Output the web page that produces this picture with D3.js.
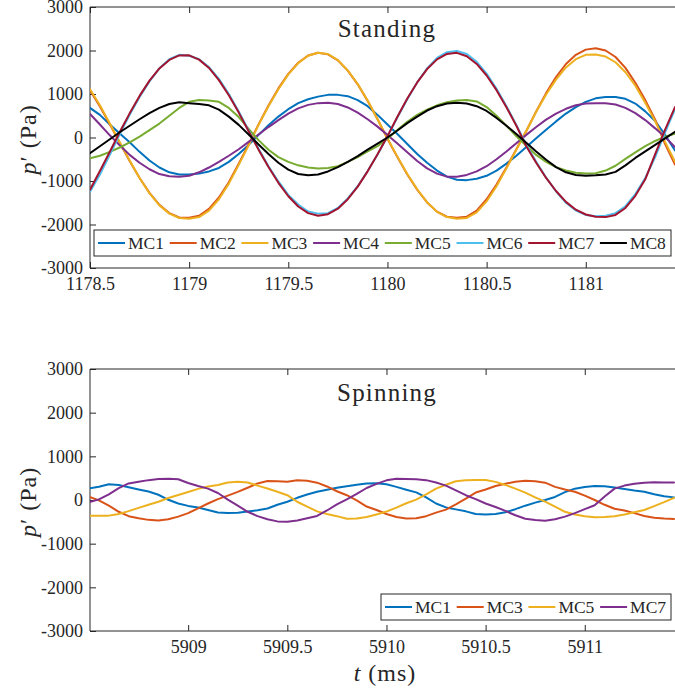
<!DOCTYPE html>
<html><head><meta charset="utf-8">
<script src="https://cdn.jsdelivr.net/npm/d3@7"></script>
<style>
body{margin:0;background:#fff}
svg text{font-family:"Liberation Serif","DejaVu Serif",serif;fill:#262626}
</style>
</head><body>
<svg id="c" width="675" height="690"></svg>
<script>
// ---------- data ----------
const sampleStep = 0.05;             // ms between samples
const standingStart = 1178.5;        // ms
const spinningStart = 5908.5;        // ms

const standingNames = ["MC1","MC2","MC3","MC4","MC5","MC6","MC7","MC8"];
const spinningNames = ["MC1","MC3","MC5","MC7"];

const standingMC1 = [680,520,300,90,-110,-330,-530,-690,-800,-850,-850,-830,-780,-700,-560,-380,-170,60,280,480,650,790,880,940,980,980,950,860,720,520,300,80,-150,-380,-580,-760,-900,-970,-980,-950,-880,-760,-600,-420,-220,-20,180,370,550,700,820,900,930,930,890,780,600,380,60,-300];
const standingMC2 = [1084,714,303,-122,-540,-931,-1273,-1547,-1737,-1837,-1845,-1800,-1640,-1380,-1030,-600,-160,302,735,1129,1463,1718,1884,1950,1911,1773,1537,1223,842,419,-28,-451,-849,-1201,-1493,-1704,-1822,-1846,-1820,-1680,-1420,-1080,-690,-270,150,600,1020,1390,1690,1900,2020,2050,2000,1850,1600,1260,860,410,-150,-620];
const standingMC3 = [1110,740,320,-110,-530,-930,-1280,-1560,-1750,-1850,-1870,-1830,-1680,-1420,-1060,-630,-180,290,720,1110,1450,1710,1880,1950,1920,1780,1540,1230,850,420,-20,-440,-840,-1190,-1490,-1710,-1830,-1870,-1850,-1720,-1470,-1120,-710,-280,150,590,990,1330,1610,1800,1900,1910,1860,1730,1500,1190,800,370,-100,-560];
const standingMC4 = [540,300,50,-180,-400,-580,-730,-840,-890,-900,-880,-800,-690,-560,-420,-270,-100,70,240,400,550,670,750,790,800,770,690,570,420,250,60,-140,-340,-540,-710,-830,-900,-900,-860,-780,-660,-500,-320,-130,60,240,410,550,660,740,780,790,790,760,680,560,400,210,10,-220];
const standingMC5 = [-480,-420,-330,-230,-110,20,170,320,500,680,820,860,850,820,680,470,200,-60,-280,-450,-560,-640,-690,-710,-700,-660,-560,-450,-320,-200,-30,170,360,520,640,740,810,850,860,830,700,500,270,30,-190,-400,-560,-680,-760,-810,-830,-820,-760,-650,-490,-340,-200,-80,20,90];
const standingMC6 = [-1250,-850,-400,80,520,930,1290,1590,1800,1900,1880,1800,1620,1350,1000,600,160,-260,-660,-1010,-1320,-1540,-1700,-1750,-1740,-1620,-1400,-1120,-770,-390,20,460,880,1270,1590,1830,1960,1990,1920,1740,1470,1120,720,290,-170,-560,-920,-1240,-1500,-1680,-1780,-1810,-1800,-1740,-1580,-1300,-930,-450,120,650];
const standingMC7 = [-1200,-772,-328,125,555,956,1307,1588,1784,1887,1889,1790,1598,1320,971,572,143,-279,-679,-1042,-1350,-1586,-1739,-1800,-1764,-1636,-1418,-1129,-778,-387,29,476,895,1266,1574,1796,1921,1946,1868,1691,1425,1088,696,271,-200,-580,-930,-1230,-1480,-1660,-1770,-1820,-1830,-1780,-1620,-1340,-960,-380,180,700];
const standingMC8 = [-360,-200,-40,120,270,420,560,680,770,810,790,770,740,640,480,290,70,-160,-380,-580,-740,-840,-870,-850,-780,-680,-560,-430,-280,-140,0,160,330,480,620,720,780,800,780,720,610,450,270,80,-120,-320,-510,-680,-800,-860,-880,-870,-850,-790,-640,-470,-320,-170,-20,130];

const spinningMC1 = [267,305,360,345,290,240,195,120,5,-80,-135,-170,-230,-285,-300,-290,-265,-235,-195,-110,-40,50,125,190,235,280,315,350,380,385,360,300,235,175,60,-80,-170,-215,-260,-320,-330,-320,-280,-210,-130,-60,0,70,180,260,300,320,315,285,250,215,190,130,85,60];
const spinningMC3 = [76,-10,-130,-270,-370,-420,-455,-470,-440,-380,-300,-190,-80,20,100,185,280,380,435,430,420,450,440,397,310,200,110,-10,-150,-230,-320,-390,-425,-420,-370,-290,-220,-100,30,170,240,320,370,420,440,430,397,300,240,190,100,0,-110,-200,-240,-300,-366,-405,-425,-435];
const spinningMC5 = [-359,-360,-358,-320,-255,-180,-110,-40,45,115,185,255,310,345,400,420,400,330,265,190,110,-40,-150,-260,-320,-370,-430,-425,-390,-330,-265,-175,-75,10,130,260,350,430,450,458,458,415,345,260,170,60,-38,-150,-270,-330,-370,-397,-390,-370,-330,-280,-229,-140,-50,50];
const spinningMC7 = [-53,15,130,270,380,420,455,480,488,475,390,320,260,160,10,-130,-270,-370,-440,-490,-500,-470,-420,-366,-240,-100,15,140,275,370,450,485,480,475,455,400,330,220,110,20,-80,-160,-250,-350,-430,-460,-473,-440,-380,-300,-210,-120,80,260,330,370,395,405,400,400];

const yTicks = [-3000,-2000,-1000,0,1000,2000,3000];
const yTickLabels = ["-3000","-2000","-1000","0","1000","2000","3000"];
const standingXTicks = [1178.5,1179,1179.5,1180,1180.5,1181];
const standingXLabels = ["1178.5","1179","1179.5","1180","1180.5","1181"];
const spinningXTicks = [5909,5909.5,5910,5910.5,5911];
const spinningXLabels = ["5909","5909.5","5910","5910.5","5911"];

const standingColors = ["#0072BD","#D95319","#EDB120","#7E2F8E","#77AC30","#4DBEEE","#A2142F","#000000"];
const spinningColors = ["#0072BD","#D95319","#EDB120","#7E2F8E"];

// ---------- drawing ----------
const FONT = '"Liberation Serif","DejaVu Serif",serif';
const svg = d3.select("#c");
svg.append("rect").attr("width",675).attr("height",690).attr("fill","#fff");
const AX = "#262626";

function panel(cfg){
  const left = 90, right = 676;
  const x = d3.scaleLinear().domain(cfg.xDomain).range([left, right]);
  const y = d3.scaleLinear().domain([-3000,3000]).range([cfg.bottom, cfg.top]);
  const time = cfg.series[0].map((d,i)=>cfg.t0 + sampleStep*i);

  const clipId = "clip"+cfg.id;
  svg.append("clipPath").attr("id",clipId).append("rect")
    .attr("x",left).attr("y",cfg.top).attr("width",right-left).attr("height",cfg.bottom-cfg.top);

  const fr = svg.append("g").attr("stroke",AX).attr("stroke-width",1).attr("fill","none");
  fr.append("line").attr("x1",left).attr("x2",right).attr("y1",cfg.top).attr("y2",cfg.top);
  fr.append("line").attr("x1",left).attr("x2",right).attr("y1",cfg.bottom).attr("y2",cfg.bottom);
  fr.append("line").attr("x1",left).attr("x2",left).attr("y1",cfg.top).attr("y2",cfg.bottom);

  const ya = svg.append("g").attr("transform",`translate(${left},0)`)
    .call(d3.axisLeft(y).tickValues(yTicks).tickFormat((d,i)=>yTickLabels[i]).tickSize(-6).tickSizeOuter(0).tickPadding(7));
  const xa = svg.append("g").attr("transform",`translate(0,${cfg.bottom})`)
    .call(d3.axisBottom(x).tickValues(cfg.xTicks).tickFormat((d,i)=>cfg.xLabels[i]).tickSize(-6).tickSizeOuter(0).tickPadding(9));
  const xt = svg.append("g").attr("transform",`translate(0,${cfg.top})`)
    .call(d3.axisTop(x).tickValues(cfg.xTicks).tickFormat("").tickSize(-6).tickSizeOuter(0));
  [ya,xa,xt].forEach(a=>{
    a.select(".domain").remove();
    a.selectAll(".tick line").attr("stroke",AX);
    a.attr("font-family",FONT).attr("font-size",18);
    a.selectAll("text").attr("fill",AX).attr("font-family",FONT).attr("font-size",18);
  });

  const line = d3.line().x((d,i)=>x(time[i])).y(d=>y(d));
  const lg = svg.append("g").attr("clip-path",`url(#${clipId})`);
  cfg.series.forEach((s,k)=>{
    lg.append("path").attr("d",line(s)).attr("fill","none")
      .attr("stroke",cfg.colors[k]).attr("stroke-width",2)
      .attr("stroke-linejoin","round").attr("stroke-linecap","round");
  });

  svg.append("text").attr("x",387).attr("y",cfg.titleY).attr("text-anchor","middle")
    .attr("font-family",FONT).attr("font-size",25).style("letter-spacing","1.2px").text(cfg.title);

  const yl = svg.append("text")
    .attr("transform",`translate(36,${(cfg.top+cfg.bottom)/2+2}) rotate(-90)`)
    .attr("text-anchor","middle").attr("font-family",FONT).attr("font-size",24).style("letter-spacing","1px");
  yl.append("tspan").attr("font-style","italic").text("p");
  yl.append("tspan").text("\u2032 (Pa)");

  const L = cfg.legend;
  const lgd = svg.append("g");
  lgd.append("rect").attr("x",L.x).attr("y",L.y).attr("width",L.w).attr("height",L.h)
    .attr("fill","#fff").attr("stroke",AX).attr("stroke-width",1);
  cfg.names.forEach((n,k)=>{
    const x0 = L.x + 4 + 71.7*k;
    const cy = L.y + L.h/2;
    lgd.append("line").attr("x1",x0).attr("x2",x0+27).attr("y1",cy).attr("y2",cy)
      .attr("stroke",cfg.colors[k]).attr("stroke-width",2);
    lgd.append("text").attr("x",x0+30).attr("y",cy).attr("dy","0.35em")
      .attr("font-family",FONT).attr("font-size",17.5).text(n);
  });
}

panel({
  id:"a", top:7, bottom:268, xDomain:[1178.5,1181.455], t0:standingStart,
  xTicks:standingXTicks, xLabels:standingXLabels,
  series:[standingMC1,standingMC2,standingMC3,standingMC4,standingMC5,standingMC6,standingMC7,standingMC8],
  colors:standingColors, names:standingNames,
  title:"Standing", titleY:37,
  legend:{x:94, y:230, w:577, h:26}
});
panel({
  id:"b", top:369, bottom:631, xDomain:[5908.505,5911.46], t0:spinningStart,
  xTicks:spinningXTicks, xLabels:spinningXLabels,
  series:[spinningMC1,spinningMC3,spinningMC5,spinningMC7],
  colors:spinningColors, names:spinningNames,
  title:"Spinning", titleY:401,
  legend:{x:381, y:594, w:290, h:26}
});

const xl = svg.append("text").attr("x",385).attr("y",681).attr("text-anchor","middle")
  .attr("font-family",FONT).attr("font-size",24).style("letter-spacing","1px");
xl.append("tspan").attr("font-style","italic").text("t");
xl.append("tspan").text(" (ms)");
</script>
</body></html>
